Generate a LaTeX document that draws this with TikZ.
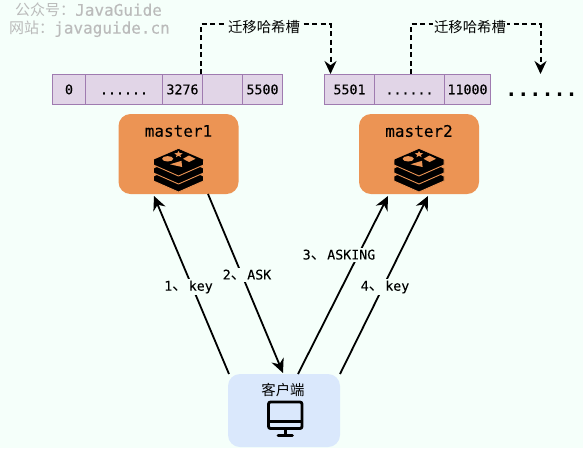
\documentclass[tikz,border=0pt]{standalone}
\usepackage{fontspec}
\usetikzlibrary{arrows.meta,calc}
\newfontfamily\cjkf{Noto Sans CJK SC}
\newfontfamily\monof[FakeBold=0.15]{DejaVu Sans Mono}
\newfontfamily\monob{DejaVu Sans Mono Bold}
\definecolor{bgc}{HTML}{F5FFFA}
\definecolor{cellf}{HTML}{E1D5E7}
\definecolor{celld}{HTML}{9F7BB0}
\definecolor{orangef}{HTML}{EC9454}
\definecolor{bluef}{HTML}{DAE8FC}
\definecolor{markc}{HTML}{BBBBBB}
\tikzset{
  cell/.style={draw=celld,fill=cellf,line width=0.9pt,inner sep=0pt,outer sep=0pt,minimum height=30pt,text height=9.5pt,text depth=0pt,font=\monof\fontsize{13.3}{14}\selectfont,text=black},
  server/.style={fill=orangef,rounded corners=12pt,inner sep=0pt,outer sep=0pt,minimum width=120pt,minimum height=80pt},
  clientbox/.style={fill=bluef,rounded corners=12pt,inner sep=0pt,outer sep=0pt,minimum width=112pt,minimum height=73pt},
  title/.style={font=\monof\fontsize{16}{18}\selectfont,inner sep=0pt},
  flow/.style={-{Stealth[length=14pt,width=13pt]},line width=1.8pt,black},
  hop/.style={-{Stealth[length=13pt,width=12pt]},line width=2pt,black,dash pattern=on 5pt off 3.5pt},
  hoplabel/.style={fill=bgc,inner xsep=1pt,inner ysep=1pt,font=\cjkf\fontsize{14.4}{16}\selectfont},
  steplabel/.style={fill=bgc,inner xsep=1pt,inner ysep=2pt,font=\monof\fontsize{13.3}{14}\selectfont},
  wm/.style={text=markc,inner sep=0pt,anchor=west,font=\monof\fontsize{16}{18}\selectfont},
  redisicon/.pic={
    \foreach \d in {16,8,0}{
      \path[fill=black,draw=orangef,line width=0.9pt,line join=round]
        (-25,\d-8) -- (0,\d-19.5) -- (25,\d-8) -- (25,\d-3) -- (0,\d+8) -- (-25,\d-3) -- cycle;
    }
    \path[fill=black] (-24.5,-8.5) -- (0,-19) -- (24.5,-8.5) -- (24.5,-7.5) -- (0,3) -- (-24.5,-7.5) -- cycle;
    \fill[orangef] (-10.8,-9.2) ellipse (5.6pt and 2.7pt);
    \fill[orangef] (0,-17) -- (1.2,-15) -- (4.2,-14.6) -- (1.8,-13) -- (2.6,-10.8) -- (0,-12.2) -- (-2.6,-10.8) -- (-1.8,-13) -- (-4.2,-14.6) -- (-1.2,-15) -- cycle;
    \fill[orangef] (10.5,-12.5) -- (17,-9.2) -- (10.5,-6) -- (4.5,-9.2) -- cycle;
    \fill[orangef] (-8.5,-3.7) -- (3,-7.2) -- (3.6,-1) -- cycle;
  },
  screenicon/.pic={
    \draw[line width=2.8pt,rounded corners=2pt] (-15,-16) rectangle (18.5,10.5);
    \draw[line width=2.8pt] (-15,3.5) -- (18.5,3.5);
    \draw[line width=2.8pt] (1.8,10.5) -- (1.8,17);
    \draw[line width=2.8pt,line cap=round] (-5.5,17.3) -- (9,17.3);
  }
}
\newcommand{\dunhao}{{\cjkf\fontsize{16.5}{14}\selectfont 、}}
\begin{document}
\begin{tikzpicture}[x=1pt,y=-1pt]
\useasboundingbox (0,0) rectangle (583,448);
\fill[bgc] (0,0) rectangle (583,448);
% watermark
\node[wm] (w1) at (15,10) {{\cjkf\fontsize{15}{18}\selectfont 公众号：}JavaGuide};
\node[wm] (w2) at (9,29) {{\cjkf\fontsize{15}{18}\selectfont 网站：}javaguide.cn};
% slot tables
\node[cell,minimum width=33pt] (a0) at (69,89.5) {0};
\node[cell,minimum width=77pt] (a1) at (124,89.5) {......};
\node[cell,minimum width=40pt] (a2) at (182.5,89.5) {3276};
\node[cell,minimum width=40pt] (a3) at (222.5,89.5) {};
\node[cell,minimum width=40pt] (a4) at (262.5,89.5) {5500};
\node[cell,minimum width=50pt] (b0) at (349.5,89.5) {5501};
\node[cell,minimum width=70pt] (b1) at (409.5,89.5) {......};
\node[cell,minimum width=46pt] (b2) at (467.5,89.5) {11000};
\node[inner sep=0pt,anchor=base,font=\monob\fontsize{20}{22}\selectfont] (more) at (541.5,96) {......};
% hops
\coordinate (h1s) at (200.5,74);
\coordinate (h1t) at (330.5,74);
\coordinate (h2s) at (410.5,74);
\coordinate (h2t) at (540.5,74);
\draw[hop] (h1s) -- (200.5,24) -- (330.5,24) -- (h1t);
\draw[hop] (h2s) -- (410.5,24) -- (540.5,24) -- (h2t);
\node[hoplabel] (l1) at (264,27) {迁移哈希槽};
\node[hoplabel] (l2) at (470,27) {迁移哈希槽};
% servers
\node[server] (m1) at (178.5,154) {};
\node[server] (m2) at (419,154) {};
\node[title] (m1t) at (178.5,131) {master1};
\node[title] (m2t) at (419,131) {master2};
\pic at (178.5,168) {redisicon};
\pic at (419,168) {redisicon};
% client
\node[clientbox] (c) at (284,410.5) {};
\node[inner sep=0pt,font=\cjkf\fontsize{14.4}{16}\selectfont] (ct) at (283,390) {客户端};
\pic at (283.5,418) {screenicon};
% flows
\coordinate (f1s) at (229,374);
\coordinate (f1t) at (154,196);
\coordinate (f2s) at (208,194);
\coordinate (f2t) at (283,373);
\coordinate (f3s) at (298,374);
\coordinate (f3t) at (388,196);
\coordinate (f4s) at (340,374);
\coordinate (f4t) at (428,196);
\draw[flow] (f1s) -- (f1t);
\draw[flow] (f2s) -- (f2t);
\draw[flow] (f3s) -- (f3t);
\draw[flow] (f4s) -- (f4t);
\node[steplabel] (s1) at (188.5,287) {1\dunhao key};
\node[steplabel] (s2) at (247,275) {2\dunhao ASK};
\node[steplabel] (s3) at (339,255) {3\dunhao ASKING};
\node[steplabel] (s4) at (385,287) {4\dunhao key};
\end{tikzpicture}
\end{document}
